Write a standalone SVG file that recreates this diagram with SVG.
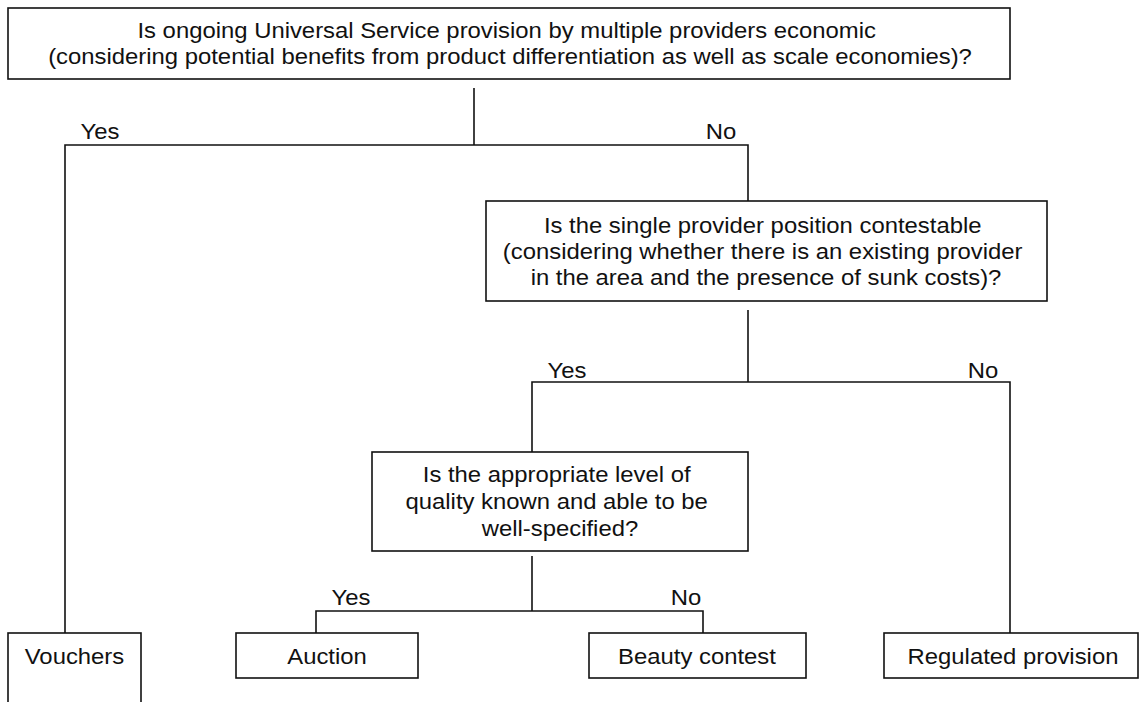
<svg xmlns="http://www.w3.org/2000/svg" width="1140" height="702" viewBox="0 0 1140 702">
  <style>
    .box { fill: #ffffff; stroke: #111111; stroke-width: 1.6; }
    .ln { fill: none; stroke: #111111; stroke-width: 1.6; }
    .t { font-family: "Liberation Sans", Arial, sans-serif; font-size: 21.5px; fill: #111111; text-anchor: middle; }
  </style>
  <rect width="1140" height="702" fill="#ffffff"/>

  <g id="connectors">
    <polyline class="ln" points="474,88 474,145"/>
    <polyline class="ln" points="65,633 65,145 748,145 748,201"/>
    <polyline class="ln" points="748,310 748,382"/>
    <polyline class="ln" points="532,452 532,382 1010,382 1010,633"/>
    <polyline class="ln" points="532,556 532,611"/>
    <polyline class="ln" points="316,633 316,611 703,611 703,633"/>
  </g>

  <g id="labels">
    <text class="t" transform="translate(100,139) scale(1.11,1)">Yes</text>
    <text class="t" transform="translate(721,139) scale(1.11,1)">No</text>
    <text class="t" transform="translate(567,378) scale(1.11,1)">Yes</text>
    <text class="t" transform="translate(983,378) scale(1.11,1)">No</text>
    <text class="t" transform="translate(351,605) scale(1.11,1)">Yes</text>
    <text class="t" transform="translate(686,605) scale(1.11,1)">No</text>
  </g>

  <g id="q1">
    <rect class="box" x="8" y="8" width="1002" height="71"/>
    <text class="t" transform="translate(510,37.5) scale(1.11,1)">
      <tspan x="0" y="0">Is ongoing Universal Service provision by multiple providers economic</tspan>
      <tspan x="0" y="27">(considering potential benefits from product differentiation as well as scale economies)?</tspan>
    </text>
  </g>

  <g id="q2">
    <rect class="box" x="486" y="201" width="561" height="100"/>
    <text class="t" transform="translate(766,232.5) scale(1.11,1)">
      <tspan x="0" y="0">Is the single provider position contestable</tspan>
      <tspan x="0" y="26.5">(considering whether there is an existing provider</tspan>
      <tspan x="0" y="53">in the area and the presence of sunk costs)?</tspan>
    </text>
  </g>

  <g id="q3">
    <rect class="box" x="372" y="452" width="376" height="99"/>
    <text class="t" transform="translate(560,482) scale(1.11,1)">
      <tspan x="0" y="0">Is the appropriate level of</tspan>
      <tspan x="0" y="27">quality known and able to be</tspan>
      <tspan x="0" y="54">well-specified?</tspan>
    </text>
  </g>

  <g id="vouchers">
    <rect class="box" x="8" y="633" width="133" height="90"/>
    <text class="t" transform="translate(74.5,664) scale(1.11,1)">Vouchers</text>
  </g>

  <g id="auction">
    <rect class="box" x="236" y="633" width="182" height="45"/>
    <text class="t" transform="translate(327,664) scale(1.11,1)">Auction</text>
  </g>

  <g id="beauty-contest">
    <rect class="box" x="589" y="633" width="217" height="45"/>
    <text class="t" transform="translate(697,664) scale(1.11,1)">Beauty contest</text>
  </g>

  <g id="regulated-provision">
    <rect class="box" x="884" y="633" width="254" height="45"/>
    <text class="t" transform="translate(1013,664) scale(1.11,1)">Regulated provision</text>
  </g>
</svg>
